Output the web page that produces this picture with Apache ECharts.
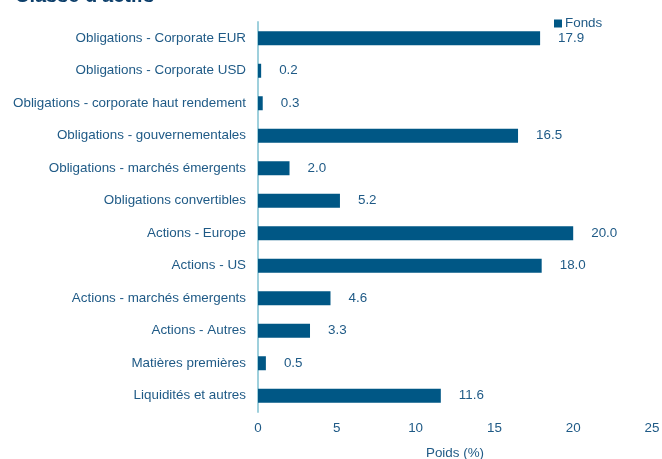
<!DOCTYPE html>
<html><head><meta charset="utf-8">
<script src="https://cdn.jsdelivr.net/npm/echarts@6/dist/echarts.min.js"></script>
<style>html,body{margin:0;padding:0;background:#fff}#c{width:662px;height:459px}</style>
</head><body><div id="c"></div>
<script>
const categories = ["Obligations - Corporate EUR","Obligations - Corporate USD","Obligations - corporate haut rendement","Obligations - gouvernementales","Obligations - marchés émergents","Obligations convertibles","Actions - Europe","Actions - US","Actions - marchés émergents","Actions - Autres","Matières premières","Liquidités et autres"];
const fonds = [17.9,0.2,0.3,16.5,2.0,5.2,20.0,18.0,4.6,3.3,0.5,11.6];
const xTicks = [0,5,10,15,20,25];
const txt = '#1f5a86';
const ff = 'Liberation Sans, Arial, sans-serif';
const chart = echarts.init(document.getElementById('c'));
chart.setOption({
  animation:false,
  textStyle:{fontFamily:ff},
  title:{text:"Classe d'actifs",left:10,top:-19,textStyle:{color:'#0d3f6b',fontSize:20,fontWeight:'bold',fontFamily:ff}},
  legend:{data:['Fonds'],left:549,top:12,itemWidth:8,itemHeight:8,itemGap:4,icon:'rect',textStyle:{color:txt,fontSize:13.4,padding:[0,0,0,-2]}},
  grid:{left:258,right:10,top:22,bottom:47,containLabel:false,outerBoundsMode:'none'},
  xAxis:{type:'value',min:0,max:25,interval:5,
    name:'Poids (%)',nameLocation:'middle',nameGap:35,nameTextStyle:{color:txt,fontSize:13.4},
    axisLine:{show:false},axisTick:{show:false},splitLine:{show:false},
    axisLabel:{color:txt,fontSize:13.4,margin:10,formatter:v=>xTicks.includes(v)?String(v):''}},
  yAxis:{type:'category',data:categories,inverse:true,
    axisLine:{show:true,lineStyle:{color:'#9fd0dc',width:2}},axisTick:{show:false},
    axisLabel:{color:txt,fontSize:13.4,margin:12}},
  series:[{name:'Fonds',type:'bar',data:fonds,barWidth:14,itemStyle:{color:'#005785'},
    label:{show:true,position:'right',distance:18,color:txt,fontSize:13.4,formatter:p=>p.value.toFixed(1)}}]
});
</script></body></html>
